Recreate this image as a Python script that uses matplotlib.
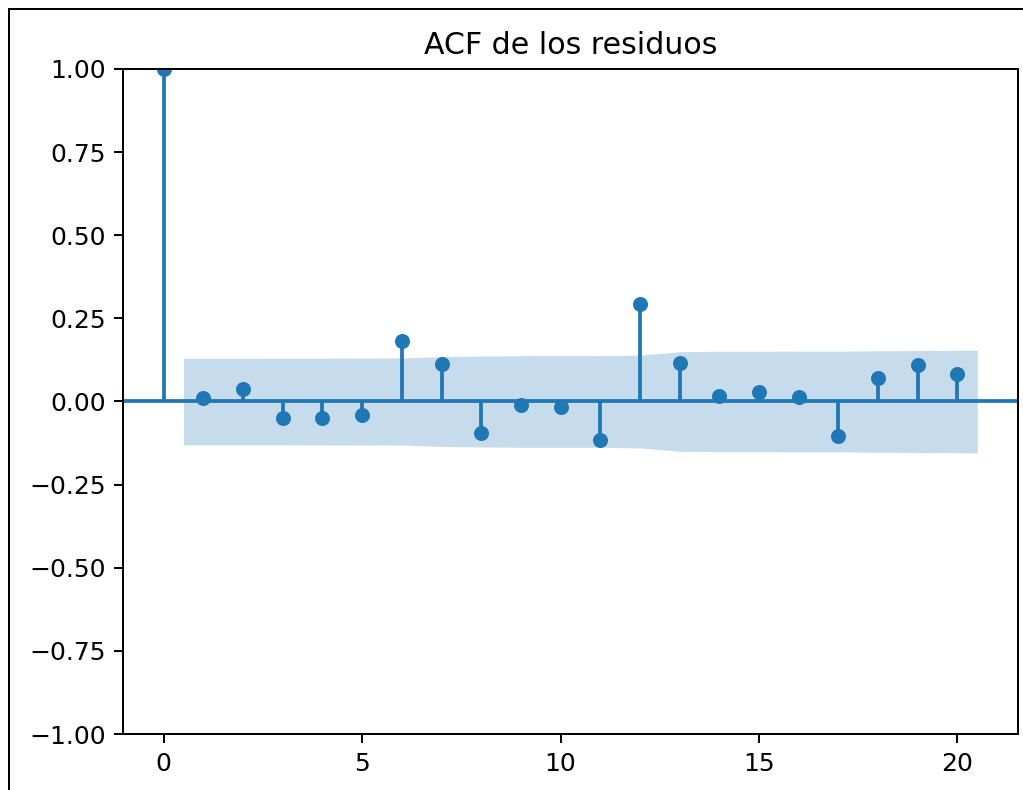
import matplotlib
matplotlib.use("Agg")
import matplotlib.pyplot as plt
from matplotlib.lines import Line2D
import numpy as np

lags = list(range(0, 21))
acf_vals = [1.0, 0.011, 0.037, -0.049, -0.049, -0.041, 0.181, 0.112, -0.095, -0.010,
            -0.018, -0.117, 0.294, 0.116, 0.017, 0.029, 0.013, -0.105, 0.072, 0.110, 0.083]
# half-width of the confidence band for lags 1..20
conf_half = [0.130, 0.130, 0.1302, 0.1305, 0.1308, 0.1310, 0.1352, 0.1367, 0.1378, 0.1378,
             0.1379, 0.1395, 0.1497, 0.1512, 0.1512, 0.1513, 0.1514, 0.1526, 0.1532, 0.1545]
title = "ACF de los residuos"

W, H = 1023, 790
dpi = 180
fig = plt.figure(figsize=(W / dpi, H / dpi), dpi=dpi)
left, right, top, bottom = 123, 1018, 69, 734
ax = fig.add_axes([left / W, (H - bottom) / H, (right - left) / W, (bottom - top) / H])

x = np.array(lags, dtype=float)
y = np.array(acf_vals)
band_x = x[1:].copy()
band_x[0] -= 0.5
band_x[-1] += 0.5
ch = np.array(conf_half)
ax.fill_between(band_x, -ch, ch, color="C0", alpha=0.25, linewidth=0)
ax.axhline(0, color="C0", linewidth=1.5)
ax.vlines(x, 0, y, color="C0", linewidth=1.5)
ax.plot(x, y, "o", color="C0", markersize=5)

ax.set_xlim(-1.025, 21.525)
ax.set_ylim(-1, 1)
ax.set_xticks([0, 5, 10, 15, 20])
ax.set_yticks(np.arange(-1, 1.01, 0.25))
ax.set_title(title)

# screenshot frame
lw = 2 * 72 / dpi
fig.add_artist(Line2D([8.5 / W, 8.5 / W], [0, 1 - 9 / H], transform=fig.transFigure, color="black", linewidth=lw))
fig.add_artist(Line2D([8.5 / W, 1], [1 - 9 / H, 1 - 9 / H], transform=fig.transFigure, color="black", linewidth=lw))

fig.savefig("out.png", dpi=dpi)
